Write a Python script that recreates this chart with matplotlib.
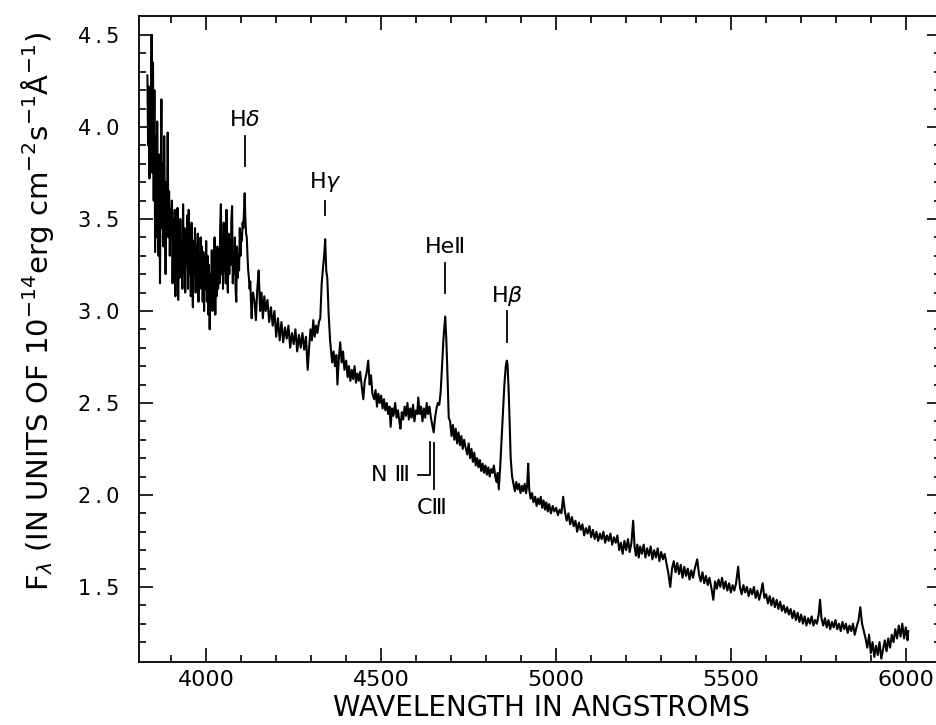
import matplotlib
matplotlib.use("Agg")
import matplotlib.pyplot as plt

# spectrum: wavelength (Angstrom) and flux (1e-14 erg cm-2 s-1 A-1)
wave_edge = [3832, 3834, 3836, 3838, 3840, 3842, 3844, 3846, 3848, 3850, 3852, 3854,
             3856, 3858, 3860, 3862, 3864, 3866, 3868, 3870, 3872, 3874, 3876, 3878,
             3880, 3882, 3884, 3886, 3888, 3890, 3892, 3894, 3896, 3898]
flux_edge = [4.28, 3.90, 4.22, 3.72, 4.10, 3.95, 4.50, 3.75, 4.35, 3.60, 4.20, 3.32,
             3.95, 3.40, 4.03, 3.55, 3.30, 3.85, 3.15, 3.70, 4.15, 3.45, 3.80, 3.35,
             3.95, 3.55, 3.20, 3.70, 3.45, 3.97, 3.40, 3.65, 3.30, 3.55]

wave_blue = [3900, 3902, 3904, 3906, 3908, 3910, 3912, 3914, 3916, 3918, 3920, 3922,
             3924, 3926, 3928, 3930, 3932, 3934, 3936, 3938, 3940, 3942, 3944, 3946,
             3948, 3950, 3952, 3954, 3956, 3958, 3960, 3962, 3964, 3966, 3968, 3970,
             3972, 3974, 3976, 3978, 3980, 3982, 3984, 3986, 3988, 3990, 3992, 3994,
             3996, 3998, 4000, 4002, 4004, 4006, 4008, 4010, 4012, 4014, 4016, 4018,
             4020, 4022, 4024, 4026, 4028, 4030, 4032, 4034, 4036, 4038, 4040, 4042,
             4044, 4046, 4048, 4050, 4052, 4054, 4056, 4058, 4060, 4062, 4064, 4066,
             4068, 4070, 4072, 4074, 4076, 4078, 4080, 4082, 4084, 4086, 4088, 4090,
             4092, 4094, 4096, 4098, 4100, 4102, 4104, 4106, 4108, 4110, 4112, 4114,
             4116, 4118, 4120, 4122, 4124, 4126, 4128, 4130, 4132, 4134]
flux_blue = [3.45, 3.60, 3.15, 3.50, 3.20, 3.55, 3.08, 3.40, 3.25, 3.56, 3.06, 3.45,
             3.18, 3.50, 3.22, 3.38, 3.12, 3.58, 3.20, 3.45, 3.10, 3.42, 3.25, 3.52,
             3.12, 3.55, 3.20, 3.40, 3.08, 3.48, 3.15, 3.02, 3.38, 3.20, 3.45, 3.10,
             3.35, 3.18, 3.42, 3.05, 3.30, 3.15, 3.40, 3.12, 3.35, 3.05, 3.32, 3.00,
             3.28, 3.12, 3.38, 3.05, 3.30, 2.98, 3.25, 2.90, 3.20, 3.05, 3.33, 3.00,
             3.28, 3.10, 3.40, 2.98, 3.30, 3.08, 3.35, 3.12, 3.30, 3.15, 3.45, 3.58,
             3.20, 3.40, 3.12, 3.48, 3.22, 3.35, 3.15, 3.55, 3.18, 3.10, 3.42, 3.20,
             3.38, 3.25, 3.50, 3.57, 3.15, 3.30, 3.20, 3.40, 3.12, 3.05, 3.35, 3.18,
             3.30, 3.22, 3.45, 3.30, 3.42, 3.38, 3.48, 3.45, 3.55, 3.64, 3.50, 3.42,
             3.40, 3.30, 3.22, 3.18, 3.12, 3.16, 3.05, 2.96, 3.08, 3.10]

wave_mid = [4138, 4142, 4146, 4150, 4154, 4158, 4162, 4166, 4170, 4175, 4180, 4185,
            4190, 4195, 4200, 4205, 4210, 4215, 4220, 4225, 4230, 4235, 4240, 4245,
            4250, 4255, 4260, 4265, 4270, 4275, 4280, 4285, 4290, 4294, 4298, 4302,
            4306, 4310, 4314, 4318, 4322, 4326, 4330, 4334, 4337, 4340, 4343, 4346,
            4350, 4354, 4356, 4360, 4364, 4368, 4372, 4375, 4379, 4383, 4387, 4391,
            4395, 4400, 4404, 4408, 4412, 4416, 4420, 4424, 4428, 4432, 4436, 4440,
            4445, 4449, 4453, 4458, 4463, 4467, 4471, 4475, 4480, 4484, 4488, 4492,
            4496, 4500, 4504, 4508, 4512, 4516, 4520, 4524, 4527, 4531, 4535, 4540,
            4544, 4548, 4552, 4555, 4559, 4563, 4567, 4571, 4575, 4579, 4583, 4587,
            4591, 4595, 4599, 4603, 4606, 4610, 4614, 4618, 4622, 4626, 4630, 4634,
            4638, 4642, 4646, 4650, 4654, 4658, 4662, 4666, 4670, 4674, 4678, 4683,
            4686, 4689, 4693]
flux_mid = [3.05, 2.95, 3.12, 3.22, 3.00, 3.10, 2.96, 3.08, 3.00, 3.06, 2.94, 3.02,
            2.92, 3.00, 2.86, 2.96, 2.84, 2.94, 2.83, 2.91, 2.85, 2.92, 2.80, 2.88,
            2.82, 2.90, 2.78, 2.87, 2.80, 2.88, 2.79, 2.86, 2.68, 2.80, 2.90, 2.84,
            2.95, 2.86, 2.92, 2.88, 2.94, 2.96, 3.15, 3.24, 3.30, 3.39, 3.22, 3.18,
            2.98, 2.84, 2.80, 2.72, 2.78, 2.70, 2.76, 2.60, 2.74, 2.83, 2.72, 2.78,
            2.68, 2.73, 2.64, 2.70, 2.62, 2.68, 2.63, 2.70, 2.61, 2.66, 2.62, 2.67,
            2.58, 2.52, 2.62, 2.66, 2.73, 2.60, 2.65, 2.55, 2.52, 2.57, 2.48, 2.55,
            2.50, 2.54, 2.47, 2.52, 2.46, 2.50, 2.44, 2.48, 2.37, 2.47, 2.43, 2.50,
            2.42, 2.46, 2.40, 2.36, 2.45, 2.41, 2.48, 2.43, 2.50, 2.41, 2.47, 2.42,
            2.49, 2.40, 2.46, 2.44, 2.53, 2.44, 2.48, 2.40, 2.47, 2.42, 2.50, 2.44,
            2.48, 2.42, 2.38, 2.34, 2.42, 2.47, 2.50, 2.49, 2.56, 2.70, 2.85, 2.97,
            2.85, 2.68, 2.42]

wave_red = [4697, 4701, 4705, 4709, 4713, 4717, 4721, 4725, 4729, 4733, 4737, 4741,
            4746, 4750, 4754, 4758, 4762, 4766, 4770, 4774, 4778, 4782, 4786, 4790,
            4794, 4798, 4802, 4806, 4810, 4814, 4818, 4822, 4826, 4830, 4833, 4836,
            4840, 4844, 4848, 4852, 4856, 4859, 4861, 4864, 4867, 4870, 4874,
            4878, 4882, 4886, 4890, 4894, 4898, 4902, 4906, 4910, 4914, 4917, 4920,
            4923, 4927, 4931, 4935, 4940, 4944, 4948, 4952, 4956, 4960, 4964, 4968,
            4972, 4976, 4980, 4985, 4990, 4995, 5000, 5005, 5010, 5015, 5020, 5025,
            5030, 5035, 5040, 5045, 5050, 5055, 5060, 5065, 5070, 5075, 5080, 5085,
            5090, 5095, 5100, 5105, 5110, 5115, 5120, 5125, 5130, 5135, 5140, 5145,
            5150, 5155, 5160, 5165, 5170]
flux_red = [2.40, 2.32, 2.38, 2.30, 2.36, 2.28, 2.34, 2.27, 2.32, 2.25, 2.30, 2.26,
            2.22, 2.28, 2.20, 2.25, 2.18, 2.23, 2.16, 2.20, 2.15, 2.19, 2.13, 2.17,
            2.12, 2.16, 2.11, 2.15, 2.10, 2.14, 2.12, 2.16, 2.10, 2.07, 2.12, 2.03,
            2.15, 2.30, 2.46, 2.60, 2.70, 2.73, 2.71, 2.58, 2.40, 2.20, 2.10,
            2.06, 2.02, 2.07, 2.03, 2.06, 2.01, 2.05, 2.02, 2.06, 2.01, 2.05, 2.17,
            2.03, 1.98, 2.01, 1.96, 1.99, 1.94, 1.98, 1.95, 1.99, 1.93, 1.97, 1.92,
            1.96, 1.91, 1.95, 1.90, 1.94, 1.91, 1.93, 1.89, 1.92, 1.90, 1.99, 1.91,
            1.86, 1.90, 1.84, 1.88, 1.83, 1.86, 1.80, 1.85, 1.81, 1.84, 1.78, 1.82,
            1.79, 1.83, 1.77, 1.81, 1.76, 1.80, 1.75, 1.79, 1.76, 1.80, 1.74, 1.78,
            1.75, 1.79, 1.73, 1.77, 1.74]

wave_tail = [5175, 5180, 5185, 5190, 5195, 5200, 5205, 5210, 5215, 5220, 5224, 5228,
             5232, 5236, 5240, 5245, 5250, 5255, 5260, 5265, 5270, 5275, 5280, 5285,
             5290, 5295, 5300, 5305, 5310, 5315, 5320, 5326, 5331, 5336, 5341, 5346,
             5351, 5356, 5361, 5366, 5371, 5376, 5381, 5386, 5391, 5396, 5403, 5408,
             5413, 5418, 5423, 5428, 5433, 5438, 5443, 5449, 5454, 5459, 5464, 5469,
             5474, 5479, 5484, 5489, 5494, 5499, 5504, 5509, 5514, 5520, 5525, 5530,
             5535, 5540, 5545, 5550, 5555, 5560, 5565, 5570, 5575, 5580, 5585, 5590,
             5595, 5600, 5605, 5610, 5615, 5620, 5625, 5630, 5635, 5640, 5645, 5650,
             5655, 5660, 5665, 5670, 5675, 5680, 5685, 5690, 5695, 5700, 5705, 5710,
             5715, 5720, 5725, 5730, 5735, 5740, 5745, 5750, 5754, 5758, 5763, 5768,
             5773, 5778, 5783, 5788, 5793, 5798, 5803, 5808, 5813, 5818, 5823, 5828,
             5833, 5838, 5843, 5848, 5853, 5858, 5864, 5869, 5874, 5879, 5884, 5889,
             5894, 5899, 5904, 5909, 5914, 5919, 5924, 5929, 5934, 5939, 5944, 5949,
             5954, 5959, 5964, 5969, 5974, 5979, 5984, 5989, 5994, 5999, 6004, 6006]
flux_tail = [1.78, 1.70, 1.74, 1.68, 1.75, 1.70, 1.76, 1.69, 1.74, 1.86, 1.72, 1.67,
             1.73, 1.66, 1.72, 1.68, 1.73, 1.66, 1.71, 1.67, 1.72, 1.65, 1.70, 1.66,
             1.71, 1.64, 1.69, 1.65, 1.68, 1.63, 1.58, 1.50, 1.60, 1.64, 1.58, 1.63,
             1.57, 1.62, 1.55, 1.61, 1.56, 1.60, 1.54, 1.59, 1.55, 1.60, 1.65, 1.57,
             1.53, 1.58, 1.52, 1.56, 1.51, 1.55, 1.50, 1.43, 1.53, 1.49, 1.54, 1.50,
             1.55, 1.49, 1.53, 1.48, 1.52, 1.47, 1.51, 1.48, 1.52, 1.61, 1.50, 1.46,
             1.51, 1.47, 1.50, 1.45, 1.49, 1.46, 1.50, 1.44, 1.48, 1.43, 1.47, 1.52,
             1.44, 1.46, 1.41, 1.45, 1.40, 1.44, 1.39, 1.43, 1.38, 1.42, 1.37, 1.40,
             1.36, 1.39, 1.35, 1.38, 1.33, 1.37, 1.32, 1.36, 1.31, 1.35, 1.30, 1.34,
             1.29, 1.33, 1.30, 1.34, 1.29, 1.32, 1.30, 1.35, 1.43, 1.33, 1.29, 1.33,
             1.28, 1.32, 1.27, 1.31, 1.28, 1.32, 1.27, 1.30, 1.26, 1.31, 1.27, 1.30,
             1.25, 1.29, 1.26, 1.30, 1.24, 1.28, 1.32, 1.39, 1.30, 1.26, 1.22, 1.17,
             1.24, 1.14, 1.20, 1.12, 1.18, 1.13, 1.20, 1.11, 1.16, 1.21, 1.15, 1.22,
             1.17, 1.24, 1.20, 1.27, 1.22, 1.29, 1.23, 1.30, 1.22, 1.28, 1.21, 1.26]

wave = wave_edge + wave_blue + wave_mid + wave_red + wave_tail
flux = flux_edge + flux_blue + flux_mid + flux_red + flux_tail

# line identifications: label, wavelength of marker, marker bottom/top, label position
line_names = ["H$\\delta$", "H$\\gamma$", "He\u2161", "H$\\beta$"]
line_waves = [4111, 4340, 4683, 4860]
mark_lo = [3.79, 3.52, 3.10, 2.83]
mark_hi = [3.95, 3.60, 3.26, 3.00]
label_y = [4.04, 3.70, 3.35, 3.08]

x_ticks = [4000, 4500, 5000, 5500, 6000]
y_ticks = [1.5, 2.0, 2.5, 3.0, 3.5, 4.0, 4.5]

fig = plt.figure(figsize=(9.36, 7.25), dpi=100)
ax = fig.add_axes([0.1485, 0.0869, 0.857, 0.891])

ax.plot(wave, flux, color="black", lw=1.5)

for name, w, lo, hi, ly in zip(line_names, line_waves, mark_lo, mark_hi, label_y):
    ax.plot([w, w], [lo, hi], color="black", lw=1.3)
    ax.text(w, ly, name, ha="center", va="center", fontsize=16)

# N III / C III blend below He II
ax.plot([4606, 4640, 4640], [2.11, 2.11, 2.29], color="black", lw=1.3)
ax.plot([4651, 4651], [2.03, 2.28], color="black", lw=1.3)
ax.text(4526, 2.11, "N \u2162", ha="center", va="center", fontsize=16)
ax.text(4646, 1.93, "C\u2162", ha="center", va="center", fontsize=16)

ax.set_xlim(3808, 6100)
ax.set_ylim(1.092, 4.603)
ax.set_xticks(x_ticks)
ax.set_xticks(range(3900, 6100, 100), minor=True)
ax.set_yticks(y_ticks)
ax.set_yticks([1.2 + 0.1 * i for i in range(34)], minor=True)
ax.set_yticklabels([("%.1f" % v).replace(".", "\u2009.\u2009") for v in y_ticks])
ax.tick_params(which="both", direction="in", top=True, right=True, width=1.2)
ax.tick_params(which="major", length=10)
ax.tick_params(which="minor", length=5)
ax.tick_params(axis="x", labelsize=16, pad=6)
ax.tick_params(axis="y", labelsize=15, pad=14)
for s in ax.spines.values():
    s.set_linewidth(1.3)

fig.text(0.578, 0.0235, "WAVELENGTH IN ANGSTROMS", ha="center", va="center", fontsize=20)
fig.text(0.040, 0.57, "F$_\\lambda$ (IN UNITS OF 10$^{-14}$erg cm$^{-2}$s$^{-1}$\u00c5$^{-1}$)",
         ha="center", va="center", rotation=90, fontsize=21)

fig.savefig("out.png", dpi=100)
